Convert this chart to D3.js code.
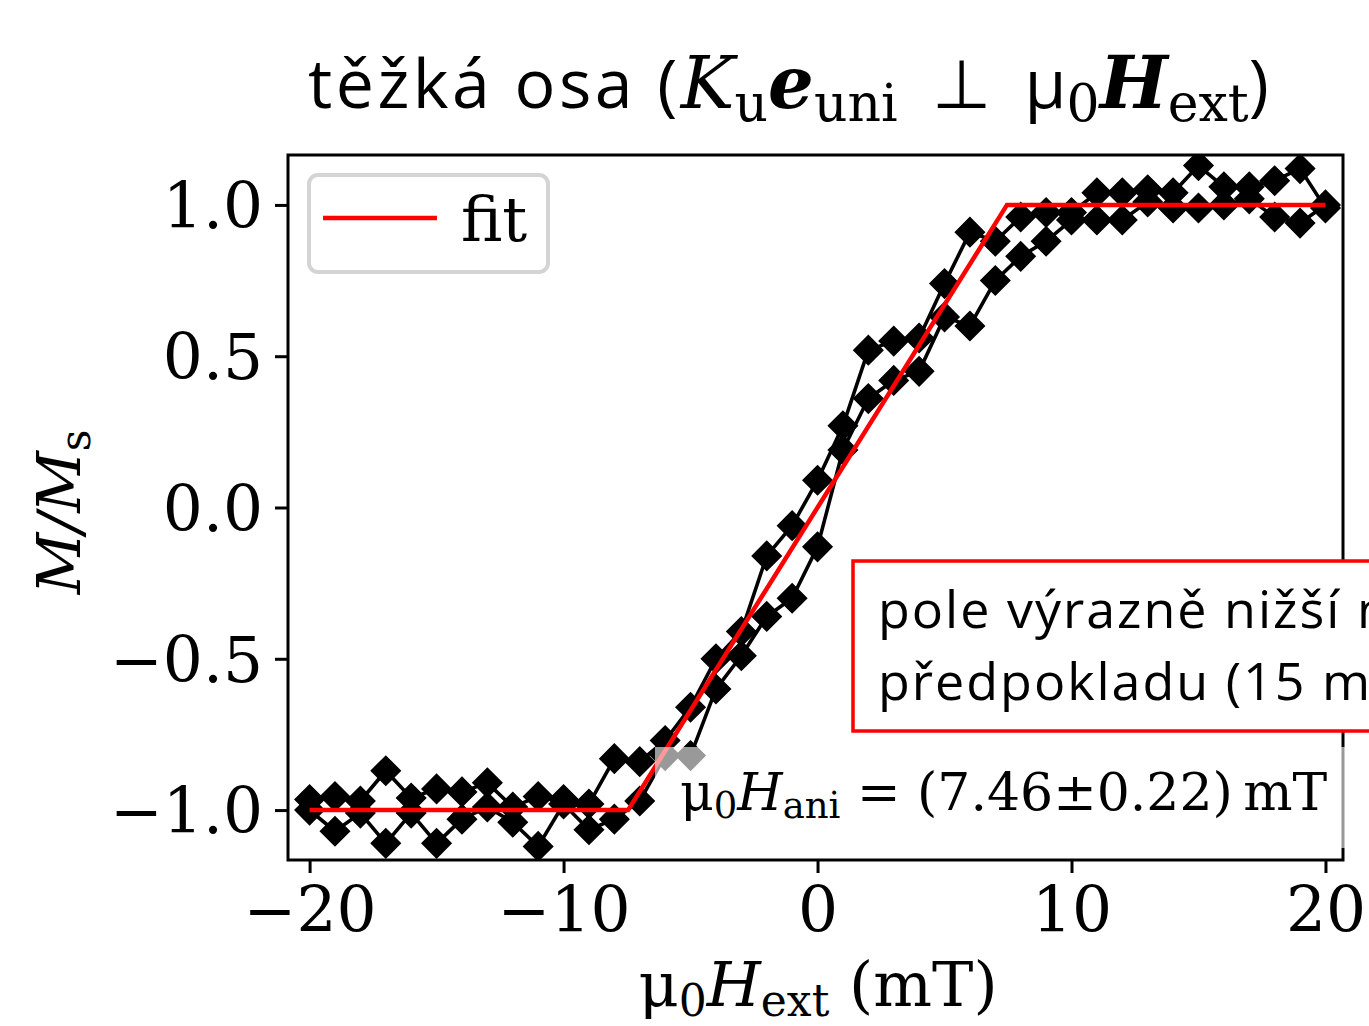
<!DOCTYPE html>
<html>
<head>
<meta charset="utf-8">
<script src="https://cdn.jsdelivr.net/npm/d3@7"></script>
<style>
  html, body { margin: 0; padding: 0; background: #fff; }
  svg { display: block; }
</style>
</head>
<body>
<svg id="chart" width="1369" height="1026"></svg>
<script>
// Hard-axis hysteresis loop: M/Ms vs applied field, two sweep branches + piecewise fit

// field values (mT) for the sweep from +20 down to -20
const fieldDown = [20, 19, 18, 17, 16, 15, 14, 13, 12, 11, 10, 9, 8, 7, 6, 5, 4, 3, 2, 1, 0,
  -1, -2, -3, -4, -5, -6, -7, -8, -9, -10, -11, -12, -13, -14, -15, -16, -17, -18, -19, -20];
const magDown = [0.99, 1.12, 1.08, 1.06, 1.06, 1.13, 1.04, 1.05, 1.04, 1.04, 0.975, 0.975, 0.96, 0.88, 0.91, 0.74, 0.56, 0.55, 0.52, 0.27, 0.09,
  -0.06, -0.16, -0.41, -0.50, -0.66, -0.77, -0.84, -0.83, -0.98, -0.965, -0.955, -0.99, -0.91, -0.94, -0.93, -0.96, -0.87, -0.97, -0.955, -0.965];

// field values (mT) for the sweep from -20 up to +20
const fieldUp = [-20, -19, -18, -17, -16, -15, -14, -13, -12, -11, -10, -9, -8, -7, -6, -5, -4, -3, -2, -1, 0,
  1, 2, 3, 4, 5, 6, 7, 8, 9, 10, 11, 12, 13, 14, 15, 16, 17, 18, 19, 20];
const magUp = [-1.00, -1.07, -1.01, -1.11, -1.01, -1.11, -1.03, -0.99, -1.04, -1.12, -0.98, -1.065, -1.03, -0.97, -0.82, -0.82, -0.60, -0.49, -0.36, -0.30, -0.13,
  0.19, 0.36, 0.42, 0.45, 0.63, 0.60, 0.75, 0.83, 0.88, 0.95, 0.95, 0.95, 1.01, 0.99, 0.99, 1.00, 1.02, 0.96, 0.94, 1.00];

// fitted anisotropy field (mT) and its uncertainty
const hAni = 7.46;
const hAniErr = 0.22;
const fitField = [-20, -hAni, hAni, 20];
const fitMag = [-1, -1, 1, 1];

const xTicks = [-20, -10, 0, 10, 20];
const yTicks = [-1.0, -0.5, 0.0, 0.5, 1.0];

const svg = d3.select("#chart");
const W = 1369, H = 1026;
const plot = { left: 288, right: 1343, top: 155, bottom: 860 };

const x = d3.scaleLinear().domain([-20.85, 20.69]).range([plot.left, plot.right]);
const y = d3.scaleLinear().domain([-1.165, 1.165]).range([plot.bottom, plot.top]);

const serif = "'DejaVu Serif', serif";
const sans = "'Open Sans', 'Noto Sans', sans-serif";

svg.append("rect").attr("width", W).attr("height", H).attr("fill", "#fff");

svg.append("defs").append("clipPath").attr("id", "plotClip")
  .append("rect")
  .attr("x", plot.left).attr("y", plot.top)
  .attr("width", plot.right - plot.left).attr("height", plot.bottom - plot.top);

const fmtTick = v => (v < 0 ? "\u2212" : "") + Math.abs(v).toFixed(1);
const fmtXTick = v => (v < 0 ? "\u2212" : "") + Math.abs(v);

// axes
const xAxis = d3.axisBottom(x).tickValues(xTicks).tickFormat(fmtXTick).tickSize(13).tickPadding(9);
const yAxis = d3.axisLeft(y).tickValues(yTicks).tickFormat(fmtTick).tickSize(13).tickPadding(12);

const gx = svg.append("g").attr("transform", `translate(0,${plot.bottom})`).call(xAxis);
const gy = svg.append("g").attr("transform", `translate(${plot.left},0)`).call(yAxis);
[gx, gy].forEach(g => {
  g.select(".domain").remove();
  g.selectAll(".tick line").attr("stroke", "#000").attr("stroke-width", 3);
  g.selectAll(".tick text").attr("fill", "#000").style("font-family", serif).style("font-size", "63px");
});
gx.selectAll(".tick text").attr("dy", "0.8em");
gy.selectAll(".tick text").attr("dy", "0.36em");

// data branches
const dataLayer = svg.append("g").attr("clip-path", "url(#plotClip)");
const line = d3.line().x(d => x(d[0])).y(d => y(d[1]));
const diamond = d3.symbol(d3.symbolSquare, 420)();

function drawBranch(fields, mags) {
  const pts = fields.map((f, i) => [f, mags[i]]);
  dataLayer.append("path").datum(pts)
    .attr("d", line).attr("fill", "none").attr("stroke", "#000").attr("stroke-width", 3.6)
    .attr("stroke-linejoin", "round");
  dataLayer.append("g").selectAll("path").data(pts).join("path")
    .attr("d", diamond)
    .attr("transform", d => `translate(${x(d[0])},${y(d[1])}) rotate(45)`)
    .attr("fill", "#000").attr("stroke", "#000").attr("stroke-width", 1.5);
}
drawBranch(fieldDown, magDown);
drawBranch(fieldUp, magUp);

// piecewise-linear fit
dataLayer.append("path").datum(fitField.map((f, i) => [f, fitMag[i]]))
  .attr("d", line).attr("fill", "none").attr("stroke", "#ff0000").attr("stroke-width", 4.5);

// frame
svg.append("rect")
  .attr("x", plot.left).attr("y", plot.top)
  .attr("width", plot.right - plot.left).attr("height", plot.bottom - plot.top)
  .attr("fill", "none").attr("stroke", "#000").attr("stroke-width", 3);

// legend
const leg = svg.append("g");
leg.append("rect").attr("x", 309).attr("y", 175).attr("width", 239).attr("height", 97)
  .attr("rx", 9).attr("fill", "#fff").attr("stroke", "#d4d4d4").attr("stroke-width", 4);
leg.append("line").attr("x1", 323).attr("x2", 437).attr("y1", 218).attr("y2", 218)
  .attr("stroke", "#ff0000").attr("stroke-width", 4.5);
leg.append("text").attr("x", 461).attr("y", 241).text("fit")
  .style("font-family", serif).style("font-size", "62px").attr("fill", "#000");

// fitted value annotation on a translucent white box
svg.append("rect").attr("x", 655).attr("y", 747).attr("width", 700).attr("height", 101)
  .attr("fill", "#fff").attr("fill-opacity", 0.6);
const ann = svg.append("text").attr("x", 680).attr("y", 810)
  .style("font-family", serif).style("font-size", "52px").attr("fill", "#000");
ann.append("tspan").text("\u03bc");
ann.append("tspan").text("0").style("font-size", "37px").attr("dy", 8);
ann.append("tspan").text("H").style("font-style", "italic").attr("dy", -8);
ann.append("tspan").text("ani").style("font-size", "37px").attr("dy", 8);
ann.append("tspan").text(` = (${hAni.toFixed(2)}\u00b1${hAniErr.toFixed(2)})\u2009mT`).attr("dy", -8);

// remark box
svg.append("rect").attr("x", 853).attr("y", 561).attr("width", 600).attr("height", 170)
  .attr("fill", "#fff").attr("stroke", "#ff0000").attr("stroke-width", 3.5);
const note = svg.append("text").style("font-family", sans).style("font-size", "52px")
  .style("letter-spacing", "2px").attr("fill", "#000");
note.append("tspan").attr("x", 878).attr("y", 628).text("pole výrazně nižší než");
note.append("tspan").attr("x", 878).attr("y", 700).text("předpokladu (15 mT)");

// title
const title = svg.append("text").attr("x", 308).attr("y", 108)
  .style("font-size", "68px").attr("fill", "#000");
title.append("tspan").text("těžká osa (").style("font-family", sans).style("letter-spacing", "3.5px");
title.append("tspan").text("K").style("font-family", serif).style("font-style", "italic").style("font-size", "72px");
title.append("tspan").text("u").style("font-family", serif).style("font-size", "52px").attr("dy", 13);
title.append("tspan").text("e").style("font-family", serif).style("font-style", "italic").style("font-weight", "bold").style("font-size", "72px").attr("dy", -13);
title.append("tspan").text("uni").style("font-family", serif).style("font-size", "52px").attr("dy", 13);
title.append("tspan").text("\u2002\u22a5\u2002\u03bc").style("font-family", sans).attr("dy", -13);
title.append("tspan").text("0").style("font-family", serif).style("font-size", "52px").attr("dy", 13);
title.append("tspan").text("H").style("font-family", serif).style("font-style", "italic").style("font-weight", "bold").style("font-size", "72px").attr("dy", -13);
title.append("tspan").text("ext").style("font-family", serif).style("font-size", "52px").attr("dy", 13);
title.append("tspan").text(")").style("font-family", sans).attr("dy", -13);

// x label
const xl = svg.append("text").attr("x", 818).attr("y", 1006).attr("text-anchor", "middle")
  .style("font-family", serif).style("font-size", "62px").attr("fill", "#000");
xl.append("tspan").text("\u03bc");
xl.append("tspan").text("0").style("font-size", "44px").attr("dy", 10);
xl.append("tspan").text("H").style("font-style", "italic").attr("dy", -10);
xl.append("tspan").text("ext").style("font-size", "44px").attr("dy", 10);
xl.append("tspan").text(" (mT)").attr("dy", -10);

// y label
const yl = svg.append("text").attr("transform", "translate(80,512) rotate(-90)").attr("text-anchor", "middle")
  .style("font-family", serif).style("font-size", "60px").attr("fill", "#000");
yl.append("tspan").text("M/M").style("font-style", "italic");
yl.append("tspan").text("s").style("font-size", "42px").attr("dy", 10);
</script>
</body>
</html>
